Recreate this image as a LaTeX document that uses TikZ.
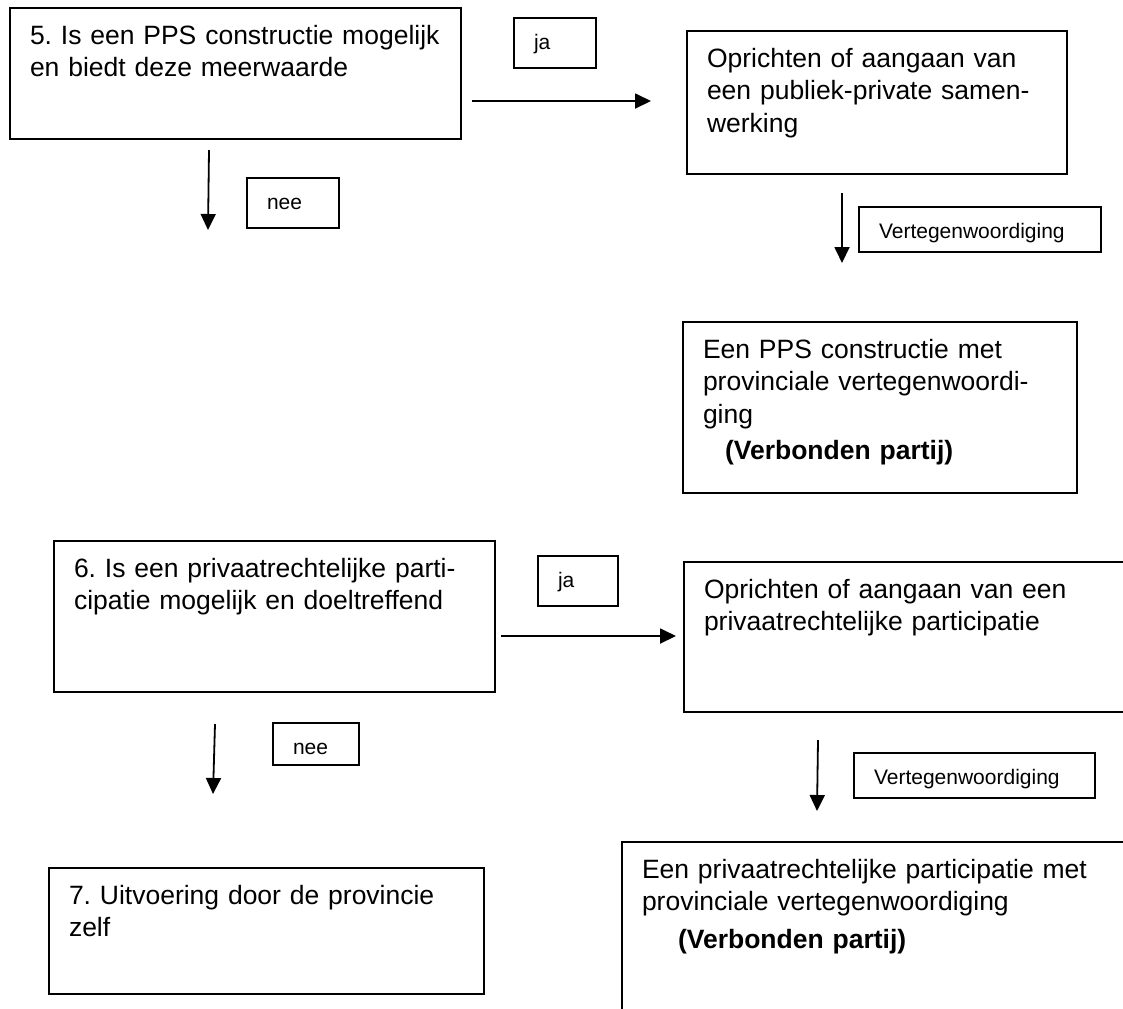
\documentclass[tikz,border=0pt]{standalone}
\usepackage{fontspec}
\setmainfont{Liberation Sans}
\usetikzlibrary{arrows.meta}

\newcommand{\grootfont}{\fontsize{13.25pt}{16.25pt}\selectfont}
\newcommand{\kleinfont}{\fontsize{10.5pt}{12.6pt}\selectfont}
\frenchspacing

\tikzset{
  vak/.style={draw, line width=1pt, anchor=north west, align=left,
    inner xsep=10pt, inner ysep=0pt, text height=18pt, font=\grootfont},
  keuze/.style={vak, text height=15.5pt, font=\kleinfont},
  pijl/.style={-{Triangle[length=8pt,width=7.5pt]}, line width=0.9pt}
}

\begin{document}
\begin{tikzpicture}[x=0.5pt,y=-0.5pt]
    \useasboundingbox (0,0) rectangle (1123,1008);
    \clip (0,0) rectangle (1123,1008);

    % vraag 5
    \node[vak, text width=205.5pt, text depth=47.5pt] (vraag 5) at (9,7)
      {\mbox{5. Is een PPS constructie mogelijk}\\en biedt deze meerwaarde};
    \node[keuze, text width=21pt, text depth=9.5pt] (ja 5) at (513,17) {ja};
    \node[keuze, text width=26pt, text depth=9.5pt] (nee 5) at (246,177) {nee};
    \node[vak, text width=170pt, text depth=53.5pt] (pps) at (686,30)
      {Oprichten of aangaan van\\een publiek-private samen-\\werking};
    \node[keuze, text width=101pt, text depth=7pt] (vert 5) at (858,206)
      {Vertegenwoordiging};
    \node[vak, text width=177pt, text depth=67.5pt] (pps partij) at (682,321)
      {Een PPS constructie met\\provinciale vertegenwoordi-\\ging\\[2pt]
       \hspace*{11pt}\textbf{(Verbonden partij)}};

    % vraag 6
    \node[vak, text width=200.5pt, text depth=57.5pt] (vraag 6) at (53,540)
      {\mbox{6. Is een privaatrechtelijke parti-}\\cipatie mogelijk en doeltreffend};
    \node[keuze, text width=20pt, text depth=9.5pt] (ja 6) at (537,555) {ja};
    \node[vak, text width=208.5pt, text depth=57pt] (participatie) at (683,561)
      {Oprichten of aangaan van een\\privaatrechtelijke participatie};
    \node[keuze, text width=23pt, text depth=5.5pt] (nee 6) at (272,722) {nee};
    \node[keuze, text width=100.5pt, text depth=7pt] (vert 6) at (853,752)
      {Vertegenwoordiging};
    \node[vak, text width=239.5pt, text depth=76.5pt] (participatie partij) at (621,841)
      {Een privaatrechtelijke participatie met\\provinciale vertegenwoordiging\\[2.5pt]
       \hspace*{18pt}\textbf{(Verbonden partij)}};

    % vraag 7
    \node[vak, text width=197.5pt, text depth=45pt] (vraag 7) at (48,867)
      {7. Uitvoering door de provincie\\zelf};

    % pijlen
    \coordinate (ja 5 begin) at (472,101);
    \coordinate (ja 5 eind) at (651,101);
    \coordinate (nee 5 begin) at (209,150);
    \coordinate (nee 5 eind) at (208,230);
    \coordinate (vert 5 begin) at (842,193);
    \coordinate (vert 5 eind) at (842,263);
    \coordinate (ja 6 begin) at (501,636);
    \coordinate (ja 6 eind) at (676,636);
    \coordinate (nee 6 begin) at (215,724);
    \coordinate (nee 6 eind) at (213,794);
    \coordinate (vert 6 begin) at (818,740);
    \coordinate (vert 6 eind) at (817,811);

    \draw[pijl] (ja 5 begin) -- (ja 5 eind);
    \draw[pijl] (nee 5 begin) -- (nee 5 eind);
    \draw[pijl] (vert 5 begin) -- (vert 5 eind);
    \draw[pijl] (ja 6 begin) -- (ja 6 eind);
    \draw[pijl] (nee 6 begin) -- (nee 6 eind);
    \draw[pijl] (vert 6 begin) -- (vert 6 eind);
\end{tikzpicture}
\end{document}
